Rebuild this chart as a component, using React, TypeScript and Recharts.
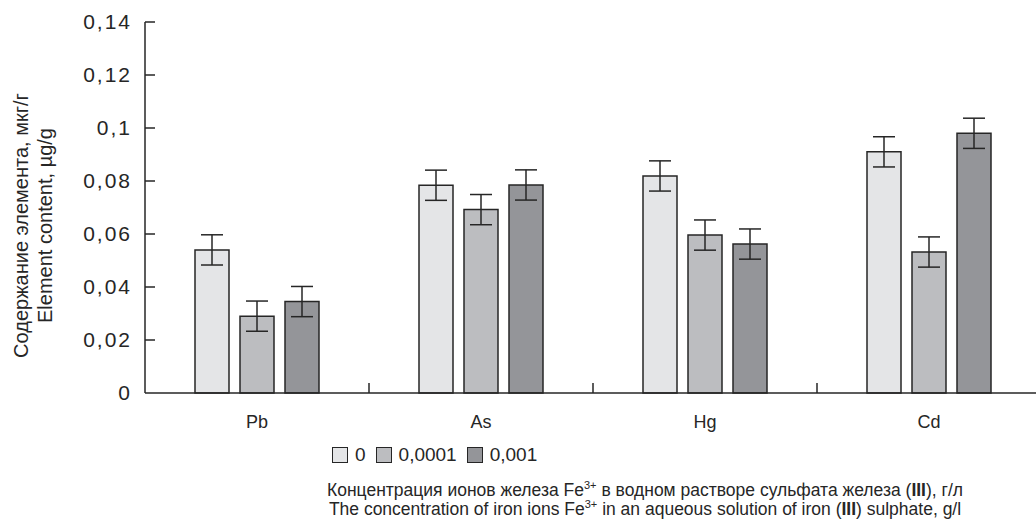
import { Bar, BarChart, ErrorBar, Label, Legend, XAxis, YAxis } from 'recharts';

const elements = ['Pb', 'As', 'Hg', 'Cd'];
const seriesNames = ['0', '0,0001', '0,001'];
const values0 = [0.054, 0.0784, 0.0819, 0.091];
const values1 = [0.029, 0.0692, 0.0596, 0.0532];
const values2 = [0.0345, 0.0785, 0.0562, 0.098];
const errors0 = [0.0057, 0.0057, 0.0057, 0.0057];
const errors1 = [0.0057, 0.0057, 0.0057, 0.0057];
const errors2 = [0.0057, 0.0057, 0.0057, 0.0057];
const yTicks = [0, 0.02, 0.04, 0.06, 0.08, 0.1, 0.12, 0.14];

const colors = ['#e4e5e7', '#bcbdc0', '#949599'];
const ink = '#262626';
const font = '"Liberation Sans", Arial, sans-serif';

const CHART_W = 1041;
const CHART_H = 532;
const AXIS_W = 145;
const BAND = (CHART_W - AXIS_W) / elements.length;

const data = elements.map((el, i) => ({
  element: el,
  s0: values0[i],
  s1: values1[i],
  s2: values2[i],
  e0: errors0[i],
  e1: errors1[i],
  e2: errors2[i],
}));

function YTick({ x, y, payload }: any) {
  return (
    <g>
      {payload.value !== 0 && <line x1={x} x2={x + 10} y1={y} y2={y} stroke={ink} strokeWidth={1.5} />}
      <text x={x - 13} y={y} dy={7} textAnchor="end" fontSize={21} letterSpacing={2} fontFamily={font} fill={ink}>
        {String(payload.value).replace('.', ',')}
      </text>
    </g>
  );
}

function XTick({ x, y, payload }: any) {
  return (
    <g>
      <text x={x} y={y + 35} textAnchor="middle" fontSize={18} fontFamily={font} fill={ink}>
        {payload.value}
      </text>
      <line x1={x + BAND / 2} x2={x + BAND / 2} y1={y} y2={y - 10} stroke={ink} strokeWidth={1.5} />
    </g>
  );
}

function YTitle(props: any) {
  const cy = props.viewBox.y + props.viewBox.height / 2 + 18;
  return (
    <g transform="rotate(-90)">
      <text fontSize={20} fontFamily={font} fill={ink} textAnchor="middle">
        <tspan x={-cy} y={28}>Содержание элемента, мкг/г</tspan>
        <tspan x={-cy} y={52}>Element content, µg/g</tspan>
      </text>
    </g>
  );
}

function XTitle({ viewBox }: any) {
  const cx = 645;
  const y1 = viewBox.y + 103;
  const y2 = y1 + 19;
  const sup = { fontSize: 11, dy: -7 } as const;
  return (
    <text fontSize={17.5} fontFamily={font} fill={ink} textAnchor="middle">
      <tspan x={cx} y={y1}>
        Концентрация ионов железа Fe<tspan {...sup}>3+</tspan>
        <tspan dy={7}> в водном растворе сульфата железа (</tspan>
        <tspan fontWeight="bold">III</tspan>), г/л
      </tspan>
      <tspan x={cx} y={y2}>
        The concentration of iron ions Fe<tspan {...sup}>3+</tspan>
        <tspan dy={7}> in an aqueous solution of iron (</tspan>
        <tspan fontWeight="bold">III</tspan>) sulphate, g/l
      </tspan>
    </text>
  );
}

function LegendContent({ payload }: any) {
  return (
    <div style={{ display: 'flex', alignItems: 'center', fontFamily: font, fontSize: 19, color: ink }}>
      {(payload || []).map((item: any, i: number) => (
        <div key={i} style={{ display: 'flex', alignItems: 'center', marginRight: 10 }}>
          <span
            style={{
              display: 'inline-block',
              width: 14,
              height: 14,
              background: item.color,
              border: `1.5px solid ${ink}`,
              marginRight: 7,
            }}
          />
          <span>{item.value}</span>
        </div>
      ))}
    </div>
  );
}

export default function App() {
  return (
    <div style={{ position: 'absolute', left: 0, top: 0, width: 1036, height: 532, overflow: 'hidden', background: '#fff' }}>
      <BarChart
        width={CHART_W}
        height={CHART_H}
        data={data}
        margin={{ top: 22, right: 0, bottom: 0, left: 0 }}
        barSize={34}
        barGap={11}
      >
        <XAxis
          dataKey="element"
          height={139}
          tickSize={0}
          tickMargin={0}
          tickLine={false}
          tick={<XTick />}
          axisLine={{ stroke: ink, strokeWidth: 1.5 }}
          interval={0}
        >
          <Label content={<XTitle />} />
        </XAxis>
        <YAxis
          width={AXIS_W}
          domain={[0, 0.14]}
          ticks={yTicks}
          tickSize={0}
          tickMargin={0}
          tickLine={false}
          tick={<YTick />}
          axisLine={{ stroke: ink, strokeWidth: 1.5 }}
          interval={0}
        >
          <Label content={<YTitle />} />
        </YAxis>
        <Legend
          verticalAlign="middle"
          layout="horizontal"
          content={<LegendContent />}
          wrapperStyle={{ top: 444, left: 332, width: 'auto' }}
        />
        <Bar dataKey="s0" name={seriesNames[0]} fill={colors[0]} stroke={ink} strokeWidth={1.5} isAnimationActive={false}>
          <ErrorBar dataKey="e0" width={11} stroke={ink} strokeWidth={1.5} direction="y" isAnimationActive={false} />
        </Bar>
        <Bar dataKey="s1" name={seriesNames[1]} fill={colors[1]} stroke={ink} strokeWidth={1.5} isAnimationActive={false}>
          <ErrorBar dataKey="e1" width={11} stroke={ink} strokeWidth={1.5} direction="y" isAnimationActive={false} />
        </Bar>
        <Bar dataKey="s2" name={seriesNames[2]} fill={colors[2]} stroke={ink} strokeWidth={1.5} isAnimationActive={false}>
          <ErrorBar dataKey="e2" width={11} stroke={ink} strokeWidth={1.5} direction="y" isAnimationActive={false} />
        </Bar>
      </BarChart>
    </div>
  );
}
